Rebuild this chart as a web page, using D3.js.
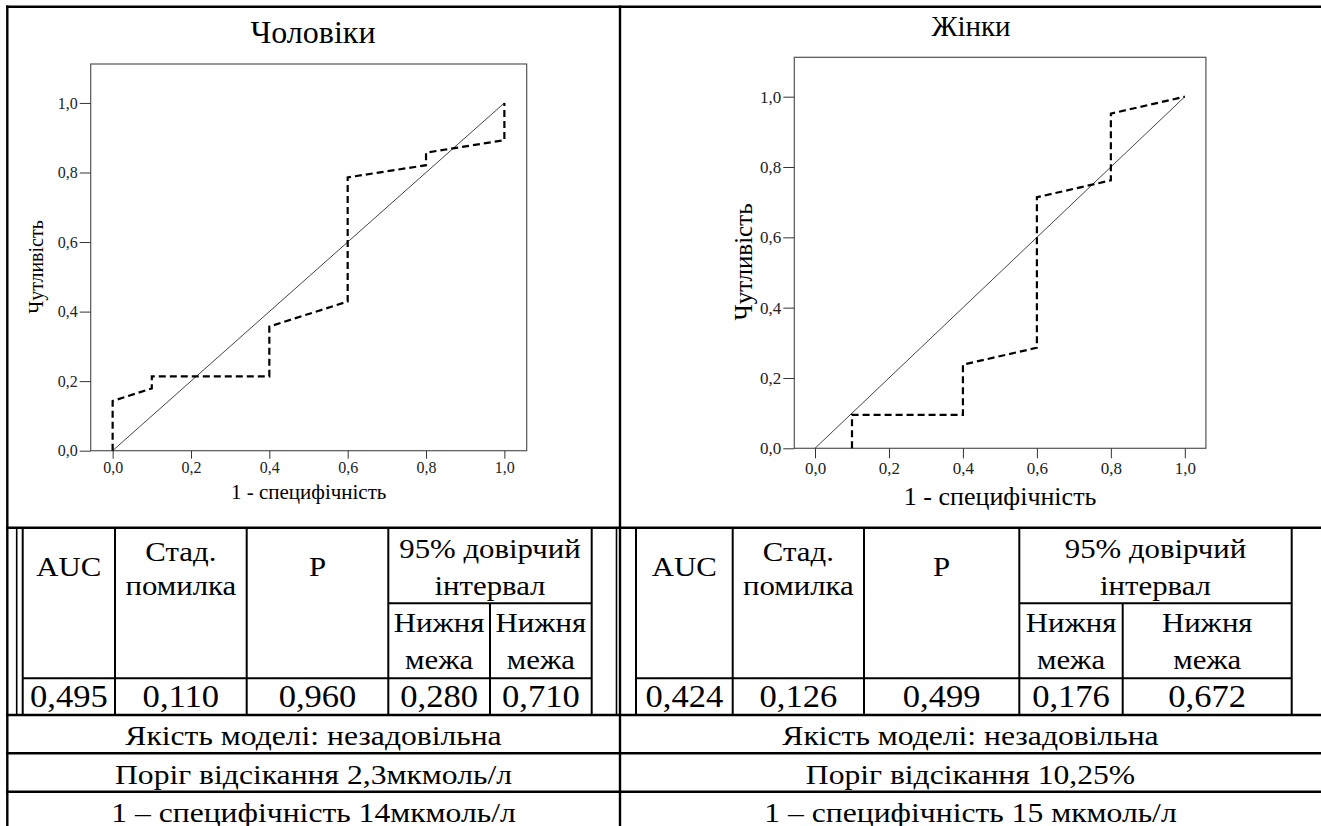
<!DOCTYPE html>
<html>
<head>
<meta charset="utf-8">
<script src="https://cdn.jsdelivr.net/npm/d3@7"></script>
<style>
  body { margin: 0; background: #fff; }
  svg { display: block; }
</style>
</head>
<body>
<script>
// ROC data (1 - specificity, sensitivity)
const menFpr = [0, 0, 0.1, 0.1, 0.4, 0.4, 0.6, 0.6, 0.8, 0.8, 1.0, 1.0];
const menTpr = [0, 0.143, 0.179, 0.214, 0.214, 0.357, 0.429, 0.786, 0.821, 0.857, 0.893, 1.0];
const womenFpr = [0.1, 0.1, 0.4, 0.4, 0.6, 0.6, 0.8, 0.8, 1.0];
const womenTpr = [0, 0.095, 0.095, 0.238, 0.286, 0.714, 0.762, 0.952, 1.0];
const diagonal = [0, 1];
const axisTicks = [0, 0.2, 0.4, 0.6, 0.8, 1.0];

const chartTitles = ['Чоловіки', 'Жінки'];
const xTitle = '1 - специфічність';
const yTitle = 'Чутливість';

const menStats = ['0,495', '0,110', '0,960', '0,280', '0,710'];
const womenStats = ['0,424', '0,126', '0,499', '0,176', '0,672'];
const menNotes = ['Якість моделі: незадовільна', 'Поріг відсікання 2,3мкмоль/л', '1 – специфічність 14мкмоль/л'];
const womenNotes = ['Якість моделі: незадовільна', 'Поріг відсікання 10,25%', '1 – специфічність 15 мкмоль/л'];

const FONT = '"Liberation Serif", "Times New Roman", serif';

const svg = d3.select('body').append('svg')
  .attr('width', 1321)
  .attr('height', 826);

const fmt = v => d3.format('.1f')(v).replace('.', ',');

// one ROC panel
function drawRoc(o) {
  const x = d3.scaleLinear().domain([-0.056, 1.057]).range([o.left, o.right]);
  const y = d3.scaleLinear().domain([0, 1.112]).range([o.bottom, o.top]);
  const g = svg.append('g');

  g.append('text')
    .attr('x', o.titleX).attr('y', o.titleY)
    .attr('text-anchor', 'middle')
    .attr('font-family', FONT).attr('font-size', o.titleSize)
    .text(o.title);

  g.append('rect')
    .attr('x', o.left).attr('y', o.top)
    .attr('width', o.right - o.left).attr('height', o.bottom - o.top)
    .attr('fill', 'none').attr('stroke', '#555').attr('stroke-width', 1.2);

  const ya = g.append('g')
    .attr('transform', `translate(${o.left},0)`)
    .call(d3.axisLeft(y).tickValues(axisTicks).tickFormat(fmt).tickSize(11).tickPadding(2));
  const xa = g.append('g')
    .attr('transform', `translate(0,${o.bottom})`)
    .call(d3.axisBottom(x).tickValues(axisTicks).tickFormat(fmt).tickSize(o.xTick).tickPadding(o.xPad));
  [ya, xa].forEach(a => {
    a.select('.domain').remove();
    a.attr('font-family', FONT).attr('font-size', o.tickSize);
    a.selectAll('line').attr('stroke', '#333');
    a.selectAll('text').attr('fill', '#222');
  });

  g.append('text')
    .attr('x', (o.left + o.right) / 2).attr('y', o.xTitleY)
    .attr('text-anchor', 'middle')
    .attr('font-family', FONT).attr('font-size', o.xTitleSize)
    .text(xTitle);

  g.append('text')
    .attr('transform', `translate(${o.yTitleX},${o.yTitleY}) rotate(-90)`)
    .attr('text-anchor', 'middle')
    .attr('font-family', FONT).attr('font-size', o.yTitleSize)
    .text(yTitle);

  const line = d3.line().x(d => x(d[0])).y(d => y(d[1]));

  g.append('path')
    .datum(diagonal.map(v => [v, v]))
    .attr('d', line)
    .attr('fill', 'none').attr('stroke', '#444').attr('stroke-width', 1);

  g.append('path')
    .datum(d3.zip(o.fpr, o.tpr))
    .attr('d', line)
    .attr('fill', 'none').attr('stroke', '#000')
    .attr('stroke-width', 2.2).attr('stroke-dasharray', '7,4');
}

drawRoc({
  title: chartTitles[0], titleX: 313, titleY: 43, titleSize: 32,
  left: 90.7, right: 526.7, top: 64, bottom: 450.7,
  tickSize: 16, xTick: 8, xPad: 3,
  xTitleY: 499, xTitleSize: 21,
  yTitleX: 43, yTitleY: 267, yTitleSize: 20,
  fpr: menFpr, tpr: menTpr
});

drawRoc({
  title: chartTitles[1], titleX: 971, titleY: 36, titleSize: 29,
  left: 794.3, right: 1205.9, top: 57.3, bottom: 448.3,
  tickSize: 17, xTick: 10, xPad: 4,
  xTitleY: 505, xTitleSize: 26,
  yTitleX: 752, yTitleY: 262, yTitleSize: 25,
  fpr: womenFpr, tpr: womenTpr
});

// ---- table grid ----
function hline(x1, x2, yy, w) {
  svg.append('line').attr('x1', x1).attr('x2', x2).attr('y1', yy).attr('y2', yy)
    .attr('stroke', '#000').attr('stroke-width', w || 2);
}
function vline(xx, y1, y2, w) {
  svg.append('line').attr('x1', xx).attr('x2', xx).attr('y1', y1).attr('y2', y2)
    .attr('stroke', '#000').attr('stroke-width', w || 2);
}
// table text in the picture is a little stretched sideways
function cellText(cx, by, str, size, sx) {
  svg.append('text')
    .attr('transform', `translate(${cx},${by}) scale(${sx},1)`)
    .attr('text-anchor', 'middle')
    .attr('font-family', FONT).attr('font-size', size)
    .text(str);
}

// outer frame
hline(6, 1321, 6.7, 2.6);
vline(7.3, 5.5, 826, 2.4);
vline(620, 5.5, 826, 2.4);
hline(6, 1321, 527.7, 2.6);
hline(6, 1321, 715, 2.4);
hline(6, 1321, 753.3, 2.4);
hline(6, 1321, 791.7, 2.4);

// each stats table: column borders + texts
function statsTable(cols, stats, notes, panelMid, extra) {
  const [c0, c1, c2, c3, c4, c5] = cols;
  extra.forEach(xx => vline(xx, 527.7, 715, 1.6));
  [c0, c1, c2, c3, c5].forEach(xx => vline(xx, 527.7, 715));
  vline(c4, 603.3, 715);
  hline(c3, c5, 603.3);
  hline(c0, c5, 678.3);

  const mid = (a, b) => (a + b) / 2;
  const hs = 28, hx = 1.1;
  cellText(mid(c0, c1), 576, 'AUC', hs, hx);
  cellText(mid(c1, c2), 561, 'Стад.', hs, hx);
  cellText(mid(c1, c2), 595, 'помилка', hs, hx);
  cellText(mid(c2, c3), 576, 'P', hs, hx);
  cellText(mid(c3, c5), 558, '95% довірчий', hs, hx);
  cellText(mid(c3, c5), 595, 'інтервал', hs, hx);
  cellText(mid(c3, c4), 632, 'Нижня', hs, hx);
  cellText(mid(c3, c4), 669, 'межа', hs, hx);
  cellText(mid(c4, c5), 632, 'Нижня', hs, hx);
  cellText(mid(c4, c5), 669, 'межа', hs, hx);

  const centers = [mid(c0, c1), mid(c1, c2), mid(c2, c3), mid(c3, c4), mid(c4, c5)];
  stats.forEach((s, i) => cellText(centers[i], 707, s, 32, 1.08));

  const noteY = [745, 783.5, 821.5];
  notes.forEach((s, i) => cellText(panelMid, noteY[i], s, 27.5, 1.15));
}

statsTable([22.7, 115, 246.7, 388.3, 490, 591.7], menStats, menNotes, 313.5, [16.7, 616.5]);
statsTable([636, 732.7, 864, 1019.3, 1122.7, 1291.7], womenStats, womenNotes, 970.5, []);
</script>
</body>
</html>
